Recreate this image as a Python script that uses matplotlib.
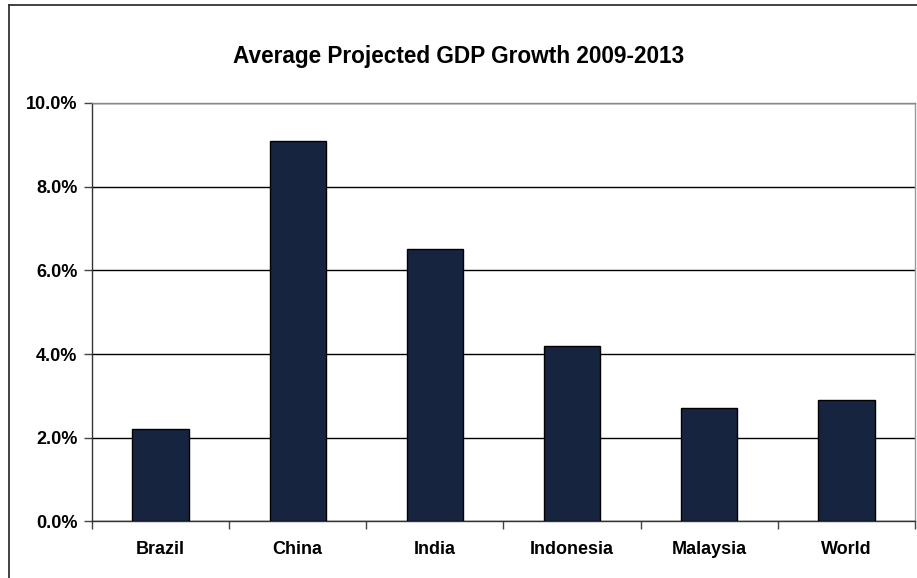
import matplotlib.pyplot as plt
from matplotlib.lines import Line2D
from matplotlib.ticker import FuncFormatter, FixedLocator

countries = ['Brazil', 'China', 'India', 'Indonesia', 'Malaysia', 'World']
growth = [2.2, 9.1, 6.5, 4.2, 2.7, 2.9]
y_ticks = [0, 2, 4, 6, 8, 10]

plt.rcParams['font.family'] = ['Liberation Sans', 'DejaVu Sans']
plt.rcParams['font.weight'] = 'bold'

fig = plt.figure(figsize=(9.17, 5.78), dpi=100)
ax = fig.add_axes([0.1003, 0.0978, 0.8975, 0.724])

x = list(range(len(countries)))
ax.bar(x, growth, width=0.41, color='#17243f', edgecolor='black', linewidth=1.0, zorder=3)

ax.set_xlim(-0.5, len(countries) - 0.5)
ax.set_ylim(0, 10)
ax.set_yticks(y_ticks)
ax.yaxis.set_major_formatter(FuncFormatter(lambda v, p: f"{v:.1f}%"))
ax.yaxis.grid(True, color='black', linewidth=1.0, zorder=1)
ax.set_axisbelow(True)

# category labels centred, ticks between categories
ax.set_xticks(x)
ax.set_xticklabels(countries, fontsize=13, fontweight='bold')
ax.tick_params(axis='x', which='major', length=0, pad=14)
ax.xaxis.set_minor_locator(FixedLocator([i - 0.5 for i in range(len(countries) + 1)]))
ax.tick_params(axis='x', which='minor', length=6, width=1.0, color='#444444', direction='out')
ax.tick_params(axis='y', length=6, width=1.0, color='#444444', labelsize=13, pad=4.5)
for lbl in ax.get_yticklabels():
    lbl.set_fontweight('bold')

ax.spines['left'].set_color('#333333')
ax.spines['bottom'].set_color('#333333')
ax.spines['top'].set_color('#888888')
ax.spines['right'].set_color('#999999')
for s in ax.spines.values():
    s.set_linewidth(1.0)

fig.text(0.5, 1 - 57 / 578, 'Average Projected GDP Growth 2009-2013',
         ha='center', va='center', fontsize=16.3, fontweight='bold')

# outer chart frame
fig.add_artist(Line2D([9 / 917, 9 / 917], [0, 1 - 5 / 578], transform=fig.transFigure,
                      color='#333333', linewidth=1.3))
fig.add_artist(Line2D([9 / 917, 1], [1 - 5 / 578, 1 - 5 / 578], transform=fig.transFigure,
                      color='#333333', linewidth=1.3))

fig.savefig('out.png', dpi=100, facecolor='white')
